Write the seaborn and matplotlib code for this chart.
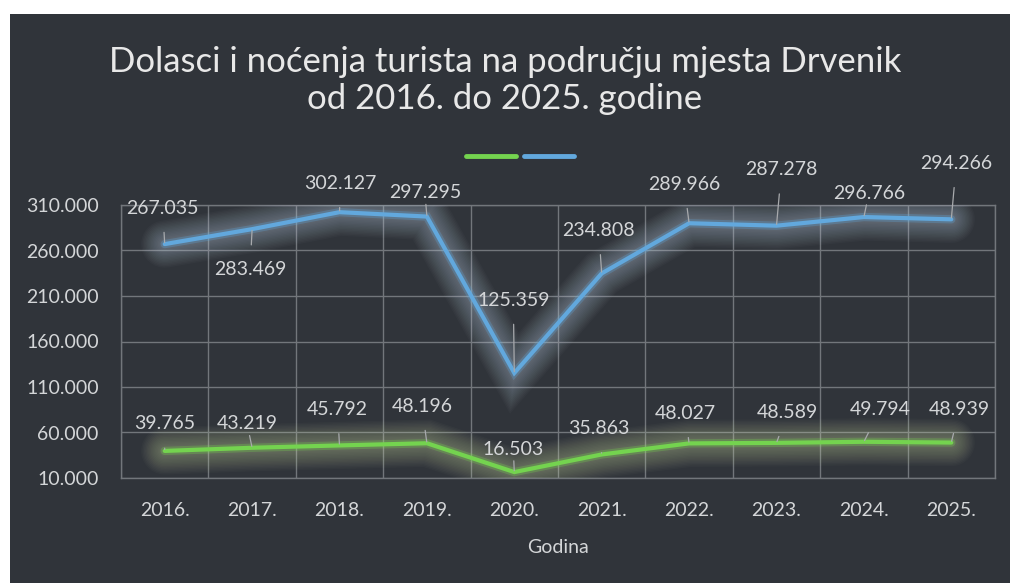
import pandas as pd
import numpy as np
import matplotlib.pyplot as plt
import matplotlib.patheffects as pe
from matplotlib.patches import Rectangle
from matplotlib.lines import Line2D
from matplotlib.ticker import FuncFormatter
import seaborn as sns

# Data
years = ['2016.', '2017.', '2018.', '2019.', '2020.', '2021.', '2022.', '2023.', '2024.', '2025.']
nocenja = [267035, 283469, 302127, 297295, 125359, 234808, 289966, 287278, 296766, 294266]
dolasci = [39765, 43219, 45792, 48196, 16503, 35863, 48027, 48589, 49794, 48939]
y_ticks = [10000, 60000, 110000, 160000, 210000, 260000, 310000]

# Label offsets in pixels (where the label sits relative to its point)
off_nocenja = [(-2, 36), (-2, -40), (1, 29), (-2, 24), (-1, 73), (-3, 43), (-5, 39), (5, 56), (5, 24), (5, 56)]
off_dolasci = [(0, 27), (-5, 24), (-2, 36), (-5, 37), (-1, 23), (-3, 26), (-4, 30), (11, 30), (16, 32), (8, 33)]

bg = '#30343a'
green = '#74d34f'
blue = '#62a8dd'
txt = '#d4d6d8'
grid_c = '#72767b'

sns.set_style('dark')
plt.rcParams['font.family'] = ['Lato', 'DejaVu Sans']

df = pd.DataFrame({
    'x': list(range(len(years))) * 2,
    'value': dolasci + nocenja,
    'serija': ['Dolasci'] * len(years) + ['Noćenja'] * len(years),
})

fig = plt.figure(figsize=(10.10, 5.83), dpi=100, facecolor='white')
# dark chart area of the scanned page
fig.patches.append(Rectangle((10 / 1010, 0), 1, 1 - 14 / 583, transform=fig.transFigure,
                             facecolor=bg, edgecolor='none', zorder=-5))

ax = fig.add_axes([121 / 1010, 1 - 478 / 583, (995 - 121) / 1010, (478 - 205) / 583])
ax.set_zorder(2)
ax.set_facecolor(bg)

sns.lineplot(data=df, x='x', y='value', hue='serija', palette=[green, blue],
             linewidth=3, ax=ax, legend=False, zorder=5)

# soft glow around both lines
for ln, col in zip(ax.get_lines(), [green, blue]):
    halo = '#d8e8b0' if col == green else '#c8dcf0'
    effects = [pe.Stroke(linewidth=w, foreground=halo, alpha=0.028) for w in range(34, 6, -2)]
    effects += [pe.Stroke(linewidth=6, foreground=col, alpha=0.3), pe.Normal()]
    ln.set_path_effects(effects)
    ln.set_solid_joinstyle('miter')

ax.set_xlim(-0.5, len(years) - 0.5)
ax.set_ylim(y_ticks[0], y_ticks[-1])
ax.set_yticks(y_ticks)
ax.yaxis.set_major_formatter(FuncFormatter(lambda v, p: f'{int(v):,}'.replace(',', '.')))
ax.set_xticks(np.arange(-0.5, len(years), 1), minor=False)
ax.set_xticklabels([])
ax.set_xticks(range(len(years)), minor=True)
ax.set_xticklabels(years, minor=True)
ax.tick_params(axis='x', which='both', length=0, pad=17, colors=txt, labelsize=14)
ax.tick_params(axis='y', length=0, pad=16, colors=txt, labelsize=14)
ax.grid(True, which='major', color=grid_c, linewidth=1)
for s in ax.spines.values():
    s.set_visible(True)
    s.set_color(grid_c)
    s.set_linewidth(1)
ax.set_xlabel('Godina', color=txt, fontsize=14, labelpad=15)
ax.set_ylabel('')

# data labels with leader lines
for vals, offs in [(nocenja, off_nocenja), (dolasci, off_dolasci)]:
    for i, (v, (dx, dy)) in enumerate(zip(vals, offs)):
        ax.annotate(f'{v:,}'.replace(',', '.'), xy=(i, v), xytext=(dx, dy),
                    textcoords='offset pixels', ha='center', va='center',
                    color=txt, fontsize=14, zorder=7,
                    arrowprops=dict(arrowstyle='-', color='#a8aaad', lw=0.9,
                                    shrinkA=9, shrinkB=1))

# legend without text
handles = [Line2D([], [], color=green, lw=3.5), Line2D([], [], color=blue, lw=3.5)]
fig.legend(handles, ['', ''], ncol=2, loc='center', bbox_to_anchor=(520 / 1010, 1 - 157 / 583),
           frameon=False, handlelength=3.6, handletextpad=0, columnspacing=0.6)

fig.text(0.5, 1 - 62 / 583, 'Dolasci i noćenja turista na području mjesta Drvenik',
         ha='center', va='center', color='#e8e8e8', fontsize=25)
fig.text(0.5, 1 - 99 / 583, 'od 2016. do 2025. godine',
         ha='center', va='center', color='#e8e8e8', fontsize=25)

fig.savefig('out.png', dpi=100, facecolor=fig.get_facecolor())
